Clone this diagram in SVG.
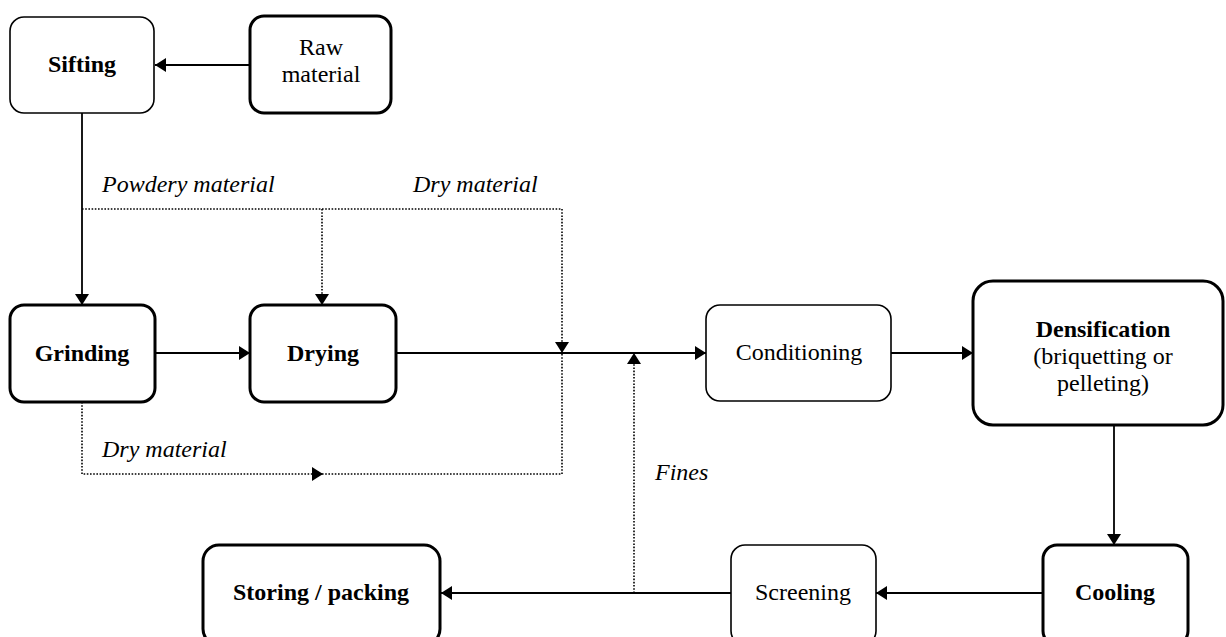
<svg xmlns="http://www.w3.org/2000/svg" width="1226" height="637" viewBox="0 0 1226 637">
<style>
.box{fill:#fff;stroke:#000;}
.thin{stroke-width:1.6;}
.thick{stroke-width:3;}
.t{font-family:"Liberation Serif","Times New Roman",serif;font-size:24px;fill:#000;text-anchor:middle;}
.b{font-weight:bold;}
.lbl{font-family:"Liberation Serif","Times New Roman",serif;font-size:24px;font-style:italic;fill:#000;}
.ln{fill:none;stroke:#000;stroke-width:1.8;}
.dot{fill:none;stroke:#000;stroke-width:1.6;stroke-dasharray:1.6 1.6;}
</style>
<defs>
<marker id="ah" markerUnits="userSpaceOnUse" markerWidth="14" markerHeight="16" viewBox="0 0 14 16" refX="12" refY="8" orient="auto">
<path d="M1,1 L12,8 L1,15 Z" fill="#000"/>
</marker>
</defs>
<g id="connectors">
<path class="ln" d="M250,65 H155" marker-end="url(#ah)"/>
<path class="ln" d="M82,113 V305" marker-end="url(#ah)"/>
<path class="ln" d="M155,353 H250" marker-end="url(#ah)"/>
<path class="ln" d="M396,353 H706" marker-end="url(#ah)"/>
<path class="ln" d="M891,353 H973" marker-end="url(#ah)"/>
<path class="ln" d="M1114,425 V545" marker-end="url(#ah)"/>
<path class="ln" d="M1043,593 H876" marker-end="url(#ah)"/>
<path class="ln" d="M731,593 H441" marker-end="url(#ah)"/>
<path class="dot" d="M82,209 H562 V353" marker-end="url(#ah)"/>
<path class="dot" d="M322,209 V305" marker-end="url(#ah)"/>
<path class="dot" d="M82,402 V474 H323" marker-end="url(#ah)"/>
<path class="dot" d="M322,474 H562 V353"/>
<path class="dot" d="M634,593 V353" marker-end="url(#ah)"/>
</g>
<g id="sifting"><rect class="box thin" x="10" y="17" width="144" height="96" rx="14"/><text class="t b" x="82" y="72">Sifting</text></g>
<g id="raw"><rect class="box thick" x="250" y="16" width="141" height="97" rx="14"/><text class="t" x="321" y="55">Raw</text><text class="t" x="321" y="82">material</text></g>
<g id="grinding"><rect class="box thick" x="10" y="305" width="145" height="97" rx="14"/><text class="t b" x="82" y="361">Grinding</text></g>
<g id="drying"><rect class="box thick" x="250" y="305" width="146" height="97" rx="14"/><text class="t b" x="323" y="361">Drying</text></g>
<g id="conditioning"><rect class="box thin" x="706" y="305" width="185" height="96" rx="14"/><text class="t" x="799" y="360">Conditioning</text></g>
<g id="densification"><rect class="box thick" x="973" y="281" width="250" height="144" rx="20"/><text class="t b" x="1103" y="337">Densification</text><text class="t" x="1103" y="364">(briquetting or</text><text class="t" x="1103" y="391">pelleting)</text></g>
<g id="cooling"><rect class="box thick" x="1043" y="545" width="145" height="100" rx="14"/><text class="t b" x="1115" y="600">Cooling</text></g>
<g id="screening"><rect class="box thin" x="731" y="545" width="145" height="100" rx="14"/><text class="t" x="803" y="600">Screening</text></g>
<g id="storing"><rect class="box thick" x="203" y="545" width="237" height="100" rx="16"/><text class="t b" x="321" y="600">Storing / packing</text></g>
<g id="labels">
<text class="lbl" x="102" y="192">Powdery material</text>
<text class="lbl" x="413" y="192">Dry material</text>
<text class="lbl" x="102" y="457">Dry material</text>
<text class="lbl" x="655" y="480">Fines</text>
</g>
</svg>
